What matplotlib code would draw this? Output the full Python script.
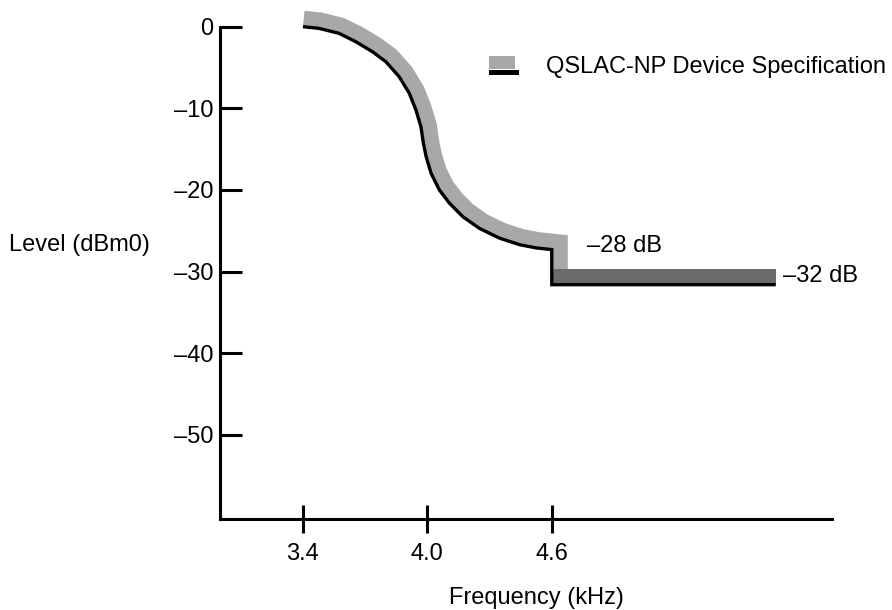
import numpy as np
import matplotlib
matplotlib.use("Agg")
import matplotlib.pyplot as plt
from matplotlib.patches import Polygon, Rectangle
from matplotlib.legend_handler import HandlerBase

# ---------------- data ----------------
freq_curve = [3.40, 3.477, 3.574, 3.655, 3.735, 3.80, 3.864, 3.913, 3.945, 3.969,
              3.981, 3.994, 4.018, 4.058, 4.106, 4.171, 4.251, 4.348, 4.445, 4.526, 4.60]
level_curve = [0.0, -0.2, -0.81, -1.84, -3.06, -4.29, -6.12, -8.16, -10.2, -12.25,
               -14.28, -15.9, -17.95, -20.0, -21.6, -23.27, -24.7, -25.9, -26.7, -27.1, -27.3]
step_freq = 4.6
level_upper = -27.3
level_lower = -31.6
end_freq = 5.68

xticks = [3.4, 4.0, 4.6]
xticklabels = ["3.4", "4.0", "4.6"]
yticks = [0, -10, -20, -30, -40, -50]
yticklabels = ["0", "\u201310", "\u201320", "\u201330", "\u201340", "\u201350"]

series_label = "QSLAC-NP Device Specification"
label_28 = "\u201328 dB"
label_32 = "\u201332 dB"

plt.rcParams["font.family"] = ["Liberation Sans", "DejaVu Sans"]
FS = 17

W, H = 892, 610
fig = plt.figure(figsize=(W / 100, H / 100), dpi=100)
ax_left, ax_right = 220, 831.7
ax_bottom_px, ax_top_px = 519, 6.3
ax = fig.add_axes([ax_left / W, (H - ax_bottom_px) / H,
                   (ax_right - ax_left) / W, (ax_bottom_px - ax_top_px) / H])
ax.set_xlim(3.0, 5.95)
ax.set_ylim(-60.3, 2.5)

LIGHT = "#a8a8a8"
DARK = "#6a6a6a"


def band(xs, ys, d, color):
    P = ax.transData.transform(np.column_stack([xs, ys]))
    t = np.diff(P, axis=0)
    t = t / np.linalg.norm(t, axis=1)[:, None]
    n = np.column_stack([-t[:, 1], t[:, 0]])
    off = np.empty_like(P)
    off[0] = P[0] + d * n[0]
    off[-1] = P[-1] + d * n[-1]
    for i in range(1, len(P) - 1):
        m = n[i - 1] + n[i]
        off[i] = P[i] + d * m / (1.0 + np.dot(n[i - 1], n[i]))
    poly = np.vstack([P, off[::-1]])
    poly = ax.transData.inverted().transform(poly)
    ax.add_patch(Polygon(poly, closed=True, fc=color, ec="none", clip_on=False, zorder=2))


xa = freq_curve + [step_freq]
ya = level_curve + [level_lower]
band(xa, ya, 16, LIGHT)
band([step_freq, end_freq], [level_lower, level_lower], 16, DARK)

x_full = freq_curve + [step_freq, end_freq]
y_full = level_curve + [level_lower, level_lower]
ax.plot(x_full, y_full, color="black", lw=2.4, solid_joinstyle="miter",
        solid_capstyle="butt", clip_on=False, zorder=3)

# axes styling
for s in ["top", "right"]:
    ax.spines[s].set_visible(False)
for s in ["left", "bottom"]:
    ax.spines[s].set_linewidth(2.2)
ax.spines["left"].set_bounds(-60.3, 0)
ax.set_xticks(xticks)
ax.set_xticklabels(xticklabels)
ax.set_yticks(yticks)
ax.set_yticklabels(yticklabels)
ax.tick_params(axis="y", direction="in", length=16, width=2.2, pad=5, labelsize=FS)
ax.tick_params(axis="x", direction="inout", length=20, width=2.2, pad=7.5, labelsize=FS)
for lbl in ax.get_yticklabels():
    lbl.set_va("center_baseline")

# annotations
ax.text(4.77, -26.9, label_28, ha="left", va="center", fontsize=FS)
ax.text(5.717, -30.5, label_32, ha="left", va="center", fontsize=FS)

fig.text(79 / W, 1 - 245 / H, "Level (dBm0)", ha="center", va="center", fontsize=FS)
fig.text(536 / W, 1 - 598 / H, "Frequency (kHz)", ha="center", va="center", fontsize=FS)


class SpecHandler(HandlerBase):
    def create_artists(self, legend, orig_handle, xdescent, ydescent,
                       width, height, fontsize, trans):
        x0, y0 = -xdescent, -ydescent
        gray = Rectangle((x0, y0 + 0.27 * height), width * 0.87, height * 0.73,
                         fc=LIGHT, ec="none", transform=trans)
        black = Rectangle((x0, y0), width, height * 0.26, fc="black", ec="none",
                          transform=trans)
        return [gray, black]


spec_handle = Rectangle((0, 0), 1, 1)
fpx = FS * 100 / 72
ax.legend([spec_handle], [series_label], handler_map={spec_handle: SpecHandler()},
          frameon=False, loc="center left", bbox_to_anchor=(489 / W, 1 - 67 / H),
          bbox_transform=fig.transFigure, borderpad=0, borderaxespad=0,
          handlelength=30 / fpx, handleheight=20 / fpx, handletextpad=27 / fpx,
          fontsize=FS)

fig.savefig("out.png", dpi=100)
